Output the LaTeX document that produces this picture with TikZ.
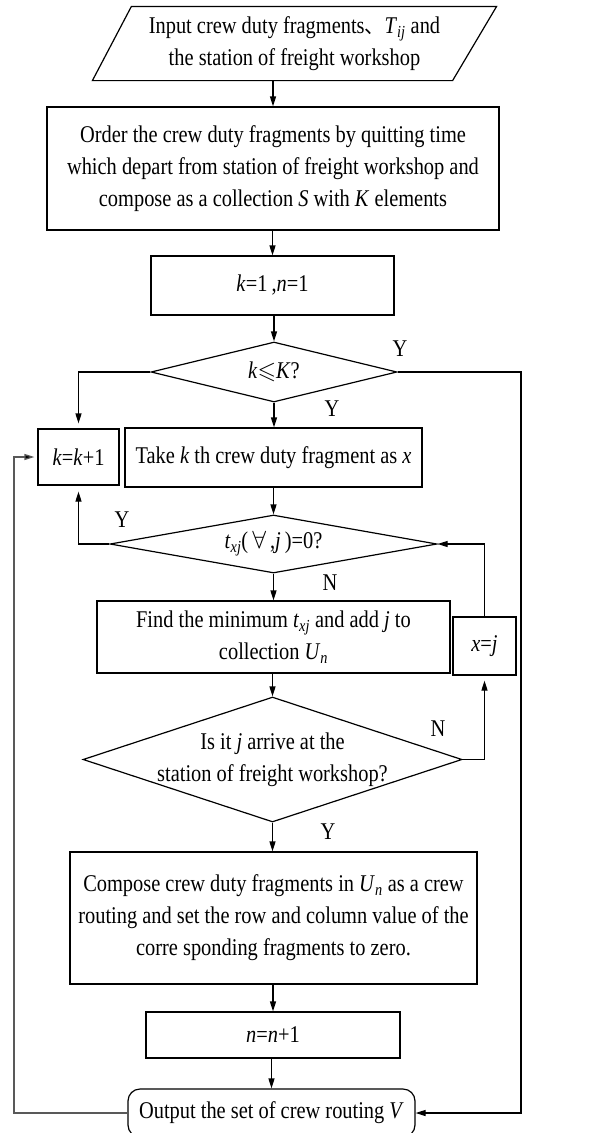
\documentclass[tikz,border=0pt]{standalone}
\usepackage{amssymb}
\usepackage{fontspec}
\setmainfont{Liberation Serif}[FakeStretch=0.85]
\newfontfamily\cjk{Noto Sans CJK SC}
\usetikzlibrary{shapes.geometric,arrows.meta,calc}
\newcommand{\iv}[1]{\textit{#1}}
\begin{document}
\begin{tikzpicture}[x=1pt,y=-1pt,
  font=\fontsize{24}{32}\selectfont,
  line width=1.2pt,
  box/.style={draw, rectangle, inner sep=0pt, align=center},
  dia/.style={draw, diamond, inner sep=0pt, align=center},
  arr/.style={-{Triangle[length=10pt,width=6pt]}},
  lab/.style={inner sep=0pt}]
\useasboundingbox (0,0) rectangle (602,1133);
% nodes
\node[inner sep=0pt, minimum width=403pt, minimum height=73pt, align=center] (in) at (294.5,43.5)
  {Input crew duty fragments{\cjk\fontsize{20}{32}\selectfont 、}\iv{T}\textsubscript{\iv{ij}} and\\the station of freight workshop};
\draw ($(in.north west)+(39,0)$) -- (in.north east) -- ($(in.south east)+(-44,0)$) -- (in.south west) -- cycle;
\node[box, minimum width=452pt, minimum height=123pt] (b2) at (273,168.5)
  {Order the crew duty fragments by quitting time\\which depart from station of freight workshop and\\compose as a collection \iv{S} with \iv{K} elements};
\node[box, minimum width=243pt, minimum height=59pt] (b3) at (272.5,285.5) {\iv{k}=1\,,\iv{n}=1};
\node[dia, minimum width=246pt, minimum height=60pt, aspect=4] (d1) at (274,372) {\iv{k}$\leqslant$\iv{K}?};
\node[box, minimum width=81pt, minimum height=56pt] (kk) at (78.5,457) {\iv{k}=\iv{k}+1};
\node[box, minimum width=297pt, minimum height=59pt] (take) at (273.5,457.5) {Take \iv{k} th crew duty fragment as \iv{x}};
\node[dia, minimum width=327pt, minimum height=58pt, aspect=5.6] (d2) at (273.5,544) {\iv{t}\textsubscript{\iv{xj}}(\,$\forall$\,,\iv{j}\,)=0?};
\node[box, minimum width=353pt, minimum height=72pt] (find) at (273.5,637)
  {Find the minimum \iv{t}\textsubscript{\iv{xj}} and add \iv{j} to\\collection \iv{U}\textsubscript{\iv{n}}};
\node[box, minimum width=63pt, minimum height=58pt] (xj) at (484.5,646) {\iv{x}=\iv{j}};
\node[dia, minimum width=379pt, minimum height=125pt, aspect=3] (d3) at (272.5,759.5) {};
\node[inner sep=0pt, align=center] (d3t) at (d3.center)
  {Is it \iv{j} arrive at the\\station of freight workshop?};
\node[box, minimum width=407pt, minimum height=132pt] (comp) at (273.5,918)
  {Compose crew duty fragments in \iv{U}\textsubscript{\iv{n}} as a crew\\routing and set the row and column value of the\\corre sponding fragments to zero.};
\node[box, minimum width=254pt, minimum height=46pt] (nn) at (273,1035) {\iv{n}=\iv{n}+1};
\node[box, rounded corners=12pt, minimum width=287pt, minimum height=48pt] (out) at (271.5,1113) {Output the set of crew routing \iv{V}};
\coordinate (R) at (521,1113);
\coordinate (L) at (14,1113);
% labels
\node[lab] (y1) at (400,349) {Y};
\node[lab] (y2) at (332,409) {Y};
\node[lab] (y3) at (122,520) {Y};
\node[lab] (n1) at (330,583) {N};
\node[lab] (n2) at (438,729) {N};
\node[lab] (y4) at (328,832) {Y};
% connectors
\draw[arr] (in.south -| b2.north) -- (b2.north);
\draw[arr] (b2.south -| b3.north) -- (b3.north);
\draw[arr] (b3.south -| d1.north) -- (d1.north);
\draw[arr, shorten >=5pt] (d1.west) -| (kk.north);
\draw[arr] (d1.east) -| (R) -- (out.east);
\draw[arr] (d1.south) -- (d1.south |- take.north);
\draw[arr] (take.south -| d2.north) -- (d2.north);
\draw[arr, shorten >=6pt] (d2.west) -| (kk.south);
\draw[arr] (d2.south) -- (d2.south |- find.north);
\draw[arr] (find.south -| d3.north) -- (d3.north);
\draw[arr, shorten >=5pt] (d3.east) -| (xj.south);
\draw[arr] (xj.north) |- (d2.east);
\draw[arr] (d3.south) -- (d3.south |- comp.north);
\draw[arr] (comp.south -| nn.north) -- (nn.north);
\draw[arr] (nn.south -| out.north) -- (out.north);
\draw[-{Triangle[length=10pt,width=6pt,fill=black]}, draw=black!65, line width=1.2pt, shorten >=3pt] (out.west) -- (L) |- (kk.west);
\end{tikzpicture}
\end{document}
